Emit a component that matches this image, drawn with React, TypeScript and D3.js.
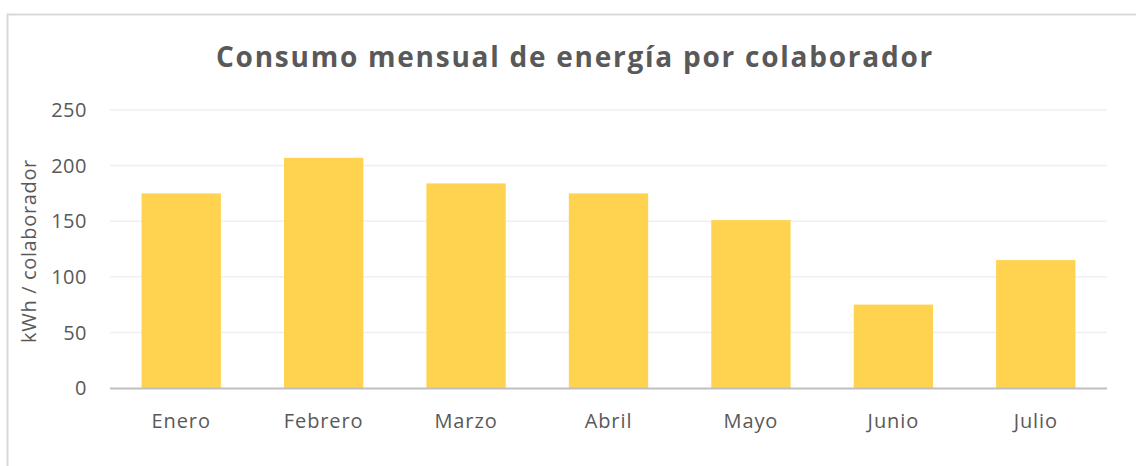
import React, { useRef, useEffect } from 'react';
import * as d3 from 'd3';

// datos
const months = ['Enero', 'Febrero', 'Marzo', 'Abril', 'Mayo', 'Junio', 'Julio'];
const consumo = [175, 207, 184, 175, 151, 75, 115];
const yTicks = [0, 50, 100, 150, 200, 250];

const width = 1136;
const height = 466;
const margin = { top: 110, right: 29, bottom: 78, left: 110 };
const font = '"Open Sans", "Noto Sans", sans-serif';
const textColor = '#595959';

export default function App() {
  const ref = useRef<SVGSVGElement>(null);

  useEffect(() => {
    const svg = d3.select(ref.current);
    svg.selectAll('*').remove();

    const x = d3
      .scaleBand()
      .domain(months)
      .range([margin.left, width - margin.right])
      .paddingInner(0.443)
      .paddingOuter(0.2215);
    const y = d3
      .scaleLinear()
      .domain([0, 250])
      .range([height - margin.bottom, margin.top]);

    // marco del grafico
    svg
      .append('rect')
      .attr('x', 7.5)
      .attr('y', 14.5)
      .attr('width', width + 10)
      .attr('height', height + 10)
      .attr('fill', '#fff')
      .attr('stroke', '#D9D9D9')
      .attr('stroke-width', 2);

    // grid
    svg
      .append('g')
      .selectAll('line')
      .data(yTicks.slice(1))
      .join('line')
      .attr('x1', margin.left)
      .attr('x2', width - margin.right)
      .attr('y1', d => y(d))
      .attr('y2', d => y(d))
      .attr('stroke', '#F0F0F0')
      .attr('stroke-width', 1.5);

    // etiquetas eje y
    svg
      .append('g')
      .selectAll('text')
      .data(yTicks)
      .join('text')
      .attr('x', 87)
      .attr('y', d => y(d))
      .attr('dy', '0.36em')
      .attr('text-anchor', 'end')
      .attr('font-family', font)
      .attr('font-size', 20)
      .attr('letter-spacing', 0.5)
      .attr('fill', textColor)
      .text(d => d);

    // barras
    svg
      .append('g')
      .selectAll('rect')
      .data(consumo)
      .join('rect')
      .attr('x', (d, i) => x(months[i])!)
      .attr('y', d => y(d))
      .attr('width', x.bandwidth())
      .attr('height', d => y(0) - y(d))
      .attr('fill', '#FFD34F');

    // eje x
    svg
      .append('line')
      .attr('x1', margin.left)
      .attr('x2', width - margin.right)
      .attr('y1', y(0) + 0.5)
      .attr('y2', y(0) + 0.5)
      .attr('stroke', '#BFBFBF')
      .attr('stroke-width', 2);

    svg
      .append('g')
      .selectAll('text')
      .data(months)
      .join('text')
      .attr('x', d => x(d)! + x.bandwidth() / 2)
      .attr('y', 427.5)
      .attr('text-anchor', 'middle')
      .attr('font-family', font)
      .attr('font-size', 20)
      .attr('fill', textColor)
      .attr('letter-spacing', 0.9)
      .text(d => d);

    // titulo eje y
    svg
      .append('text')
      .attr('transform', 'translate(36,251) rotate(-90)')
      .attr('text-anchor', 'middle')
      .attr('font-family', font)
      .attr('font-size', 20)
      .attr('letter-spacing', 0.65)
      .attr('fill', textColor)
      .text('kWh / colaborador');

    // titulo
    svg
      .append('text')
      .attr('x', 575)
      .attr('y', 67)
      .attr('text-anchor', 'middle')
      .attr('font-family', font)
      .attr('font-size', 28)
      .attr('font-weight', 'bold')
      .attr('letter-spacing', 1.75)
      .attr('fill', textColor)
      .text('Consumo mensual de energía por colaborador');
  }, []);

  return (
    <svg
      ref={ref}
      width={width}
      height={height}
      style={{ position: 'absolute', left: 0, top: 0 }}
    />
  );
}
